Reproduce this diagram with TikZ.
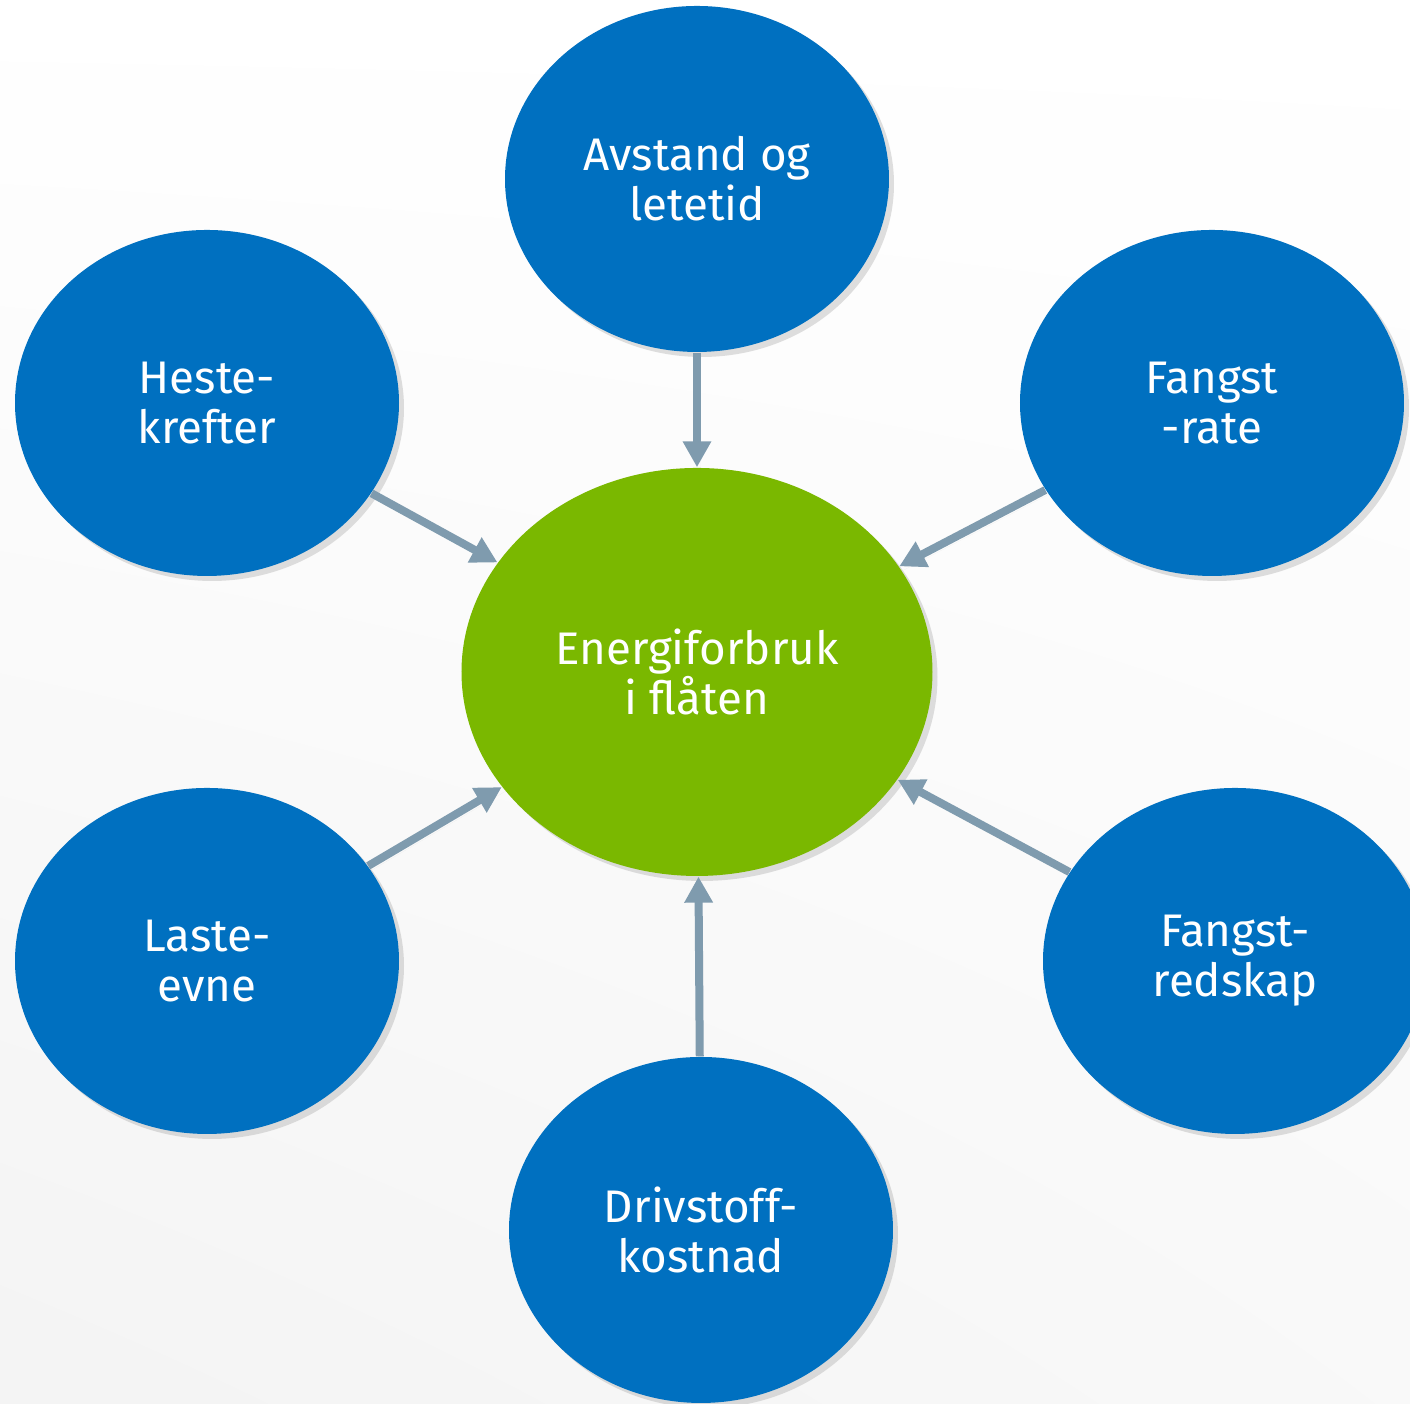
\documentclass[tikz,border=0pt]{standalone}
\usepackage{fontspec}
\setmainfont{Fira Sans}
\usetikzlibrary{arrows.meta, shadows, shadings, shapes.geometric}

\definecolor{bobleblaa}{HTML}{0070C0}
\definecolor{boblegroenn}{HTML}{7AB800}
\definecolor{pilgraa}{HTML}{7F9BAE}

\begin{document}
\begin{tikzpicture}
\useasboundingbox (0, 0) rectangle (14.1, 14.04);
\clip (0, 0) rectangle (14.1, 14.04);
\shade [upper left=white, upper right=white, lower left=gray!9, lower right=gray!5] (0, 0) rectangle (14.1, 14.04);

\begin{scope}[
    every node/.style={ellipse, fill=bobleblaa, text=white, align=center,
        minimum width=3.84cm, minimum height=3.46cm, inner sep=0pt,
        font=\fontsize{13}{14.3}\selectfont,
        drop shadow={shadow xshift=0.05cm, shadow yshift=-0.05cm, opacity=0.25}}]
    \node (0) at (6.97, 7.32) [fill=boblegroenn, minimum width=4.71cm, minimum height=4.08cm] {Energiforbruk\\i flåten};

    % % ytre bobler
    \node (1) at (6.97, 12.25) {Avstand og\\letetid};
    \node (2) at (2.07, 10.01) {Heste-\\krefter};
    \node (3) at (12.12, 10.01) {Fangst\\-rate};
    \node (4) at (2.07, 4.43) {Laste-\\evne};
    \node (5) at (12.35, 4.43) {Fangst-\\redskap};
    \node (6) at (7.01, 1.74) {Drivstoff-\\kostnad};
\end{scope}

\begin{scope}[>={Triangle[length=0.26cm, width=0.27cm]},
              every edge/.style={draw=pilgraa, line width=0.08cm,
                  drop shadow={shadow xshift=0.04cm, shadow yshift=-0.04cm, opacity=0.2}}]
    \path [->] (1) edge (0);
    \path [->] (2) edge (0);
    \path [->] (3) edge (0);
    \path [->] (4) edge (0);
    \path [->] (5) edge (0);
    \path [->] (6) edge (0);
\end{scope}
\end{tikzpicture}
\end{document}
